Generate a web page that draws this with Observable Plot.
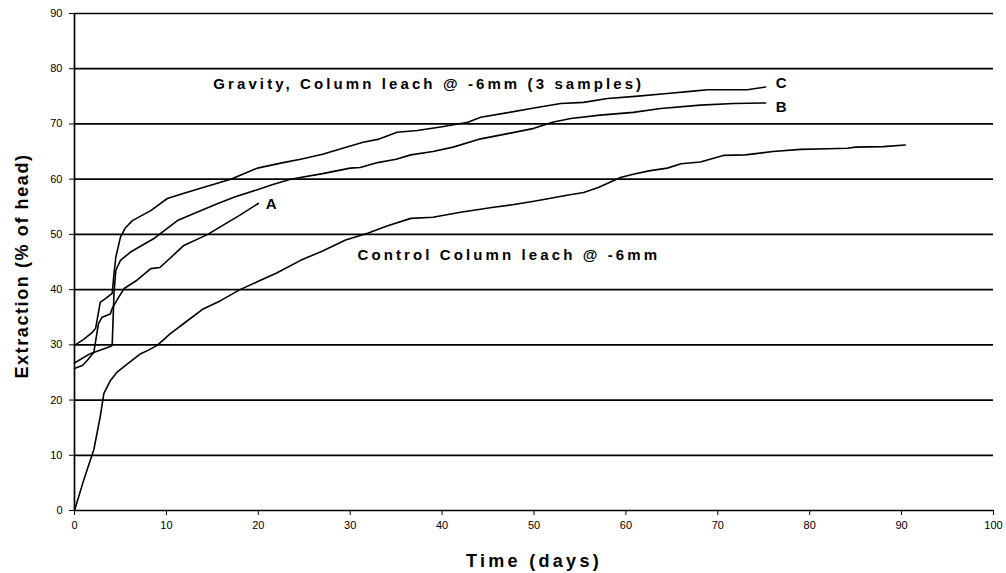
<!DOCTYPE html>
<html><head><meta charset="utf-8">
<script src="https://cdn.jsdelivr.net/npm/d3@7"></script>
<script src="https://cdn.jsdelivr.net/npm/@observablehq/plot@0.6"></script>
<style>body{margin:0;background:#fff;} svg{font-family:"Liberation Sans",Arial,sans-serif;}</style>
</head><body><div id="chart"></div>
<script>
const xTicks = [0,10,20,30,40,50,60,70,80,90,100];
const yTicks = [0,10,20,30,40,50,60,70,80,90];

const controlDays = [0,1,1.7,2.1,2.8,3.2,3.9,4.6,5.8,6.5,7.2,8,9,10.4,12,14,15.9,18,20,22,24.6,27,29.5,31.9,34,36.6,39,42,45.6,47.8,50,53.6,55.4,57,59.4,60.8,62.5,64.5,66,68.1,70.6,73,76,79,82,84.1,85,88,90.4];
const controlExt  = [0,5.5,9,11,17,21.2,23.5,25,26.6,27.5,28.4,29,29.9,32,34,36.5,38,40,41.5,43,45.3,47,49,50.2,51.5,52.9,53.1,54,54.9,55.4,56,57.1,57.6,58.5,60.3,60.9,61.5,62,62.8,63.1,64.3,64.4,65,65.4,65.5,65.6,65.8,65.9,66.2];

const cDays = [0,1,1.9,2.3,2.8,3.4,4.1,4.3,4.5,5,5.5,6.3,8.3,10.1,12,14,17,19.9,22.7,24.6,27,29,31.4,33,35.1,37.3,40,42.8,44.2,47,50,52.9,55.4,58,61,64.5,67,68.9,73.2,75.2];
const cExt  = [29.9,31,32.2,33,37.7,38.4,39.3,42.9,45.9,49.5,51.1,52.5,54.3,56.5,57.5,58.5,60,62,63,63.6,64.5,65.5,66.7,67.2,68.5,68.8,69.5,70.3,71.2,72,72.9,73.7,73.9,74.6,75,75.5,75.9,76.2,76.2,76.7];

const bDays = [0,1.7,3.9,4.1,4.3,4.5,5,6.1,8.6,11.2,13,15.6,17.5,19.9,21.5,23.5,27,30,31.1,33,35,36.6,39,41.2,44.2,47,50,52,54,57.2,60.8,63.8,68.1,71.7,75.2];
const bExt  = [26.7,28.4,29.7,29.9,39.5,43.5,45.3,46.8,49.2,52.5,53.8,55.6,56.8,58.1,59,60,61,62,62.1,63,63.6,64.4,65,65.8,67.3,68.2,69.2,70.3,71,71.6,72.1,72.8,73.4,73.7,73.8];

const aDays = [0,0.9,1.4,2.1,2.6,3,3.9,4.1,4.8,5.4,6.8,8.3,9.3,11.9,14.5,16,18,20];
const aExt  = [25.7,26.3,27.2,28.6,33.8,35,35.6,36.6,38.6,40.2,41.7,43.8,44,48,50,51.5,53.5,55.6];

const labelText = ["Gravity, Column leach @ -6mm (3 samples)", "Control Column leach @ -6mm", "A", "B", "C"];
const labelX = [15.1, 30.8, 20.8, 76.3, 76.3];
const labelY = [77.26, 46.3, 55.5, 73.05, 77.35];
const annotations = labelText.map((t, i) => ({text: t, x: labelX[i], y: labelY[i]}));

const toRows = (d, e) => d.map((x, i) => ({x, y: e[i]}));
const series = [toRows(controlDays, controlExt), toRows(cDays, cExt), toRows(bDays, bExt), toRows(aDays, aExt)];

const chart = Plot.plot({
  width: 1006, height: 573,
  marginLeft: 74, marginRight: 13, marginTop: 13, marginBottom: 63,
  x: {domain: [0, 100]},
  y: {domain: [0, 90]},
  style: {fontFamily: '"Liberation Sans", Arial, sans-serif', color: "#000", background: "#fff"},
  marks: [
    Plot.ruleY(yTicks, {stroke: "#000", strokeWidth: 1.7}),
    Plot.ruleX([0], {stroke: "#000", strokeWidth: 1.7}),
    Plot.axisX({ticks: xTicks, tickSize: 5, tickPadding: 6, fontSize: 11, label: null, tickFormat: d => d}),
    Plot.axisY({ticks: yTicks, tickSize: 5, tickPadding: 7, fontSize: 11, label: null, tickFormat: d => d}),
    ...series.map(s => Plot.line(s, {x: "x", y: "y", stroke: "#000", strokeWidth: 1.6})),
    Plot.text(annotations, {x: "x", y: "y", text: "text", textAnchor: "start", lineAnchor: "middle", fontSize: 15, fontWeight: "bold", fill: "#000", className: "ann"}),
    Plot.text(["Time (days)"], {frameAnchor: "bottom", textAnchor: "middle", lineAnchor: "bottom", dy: 56, fontSize: 18, fontWeight: "bold", fill: "#000", className: "xt"}),
    Plot.text(["Extraction (% of head)"], {frameAnchor: "left", textAnchor: "middle", lineAnchor: "middle", dx: -52, dy: 4, rotate: -90, fontSize: 18, fontWeight: "bold", fill: "#000", className: "yt"})
  ]
});
d3.select(chart).selectAll("g[aria-label=tick] line, g[aria-label=tick] path").attr("stroke-width", 1.5);
d3.select(chart).selectAll(".xt text").attr("letter-spacing", 3.3);
d3.select(chart).selectAll(".yt text").attr("letter-spacing", 1.6);
d3.select(chart).selectAll(".ann text").attr("letter-spacing", 3.1);
document.getElementById("chart").append(chart);
</script></body></html>
